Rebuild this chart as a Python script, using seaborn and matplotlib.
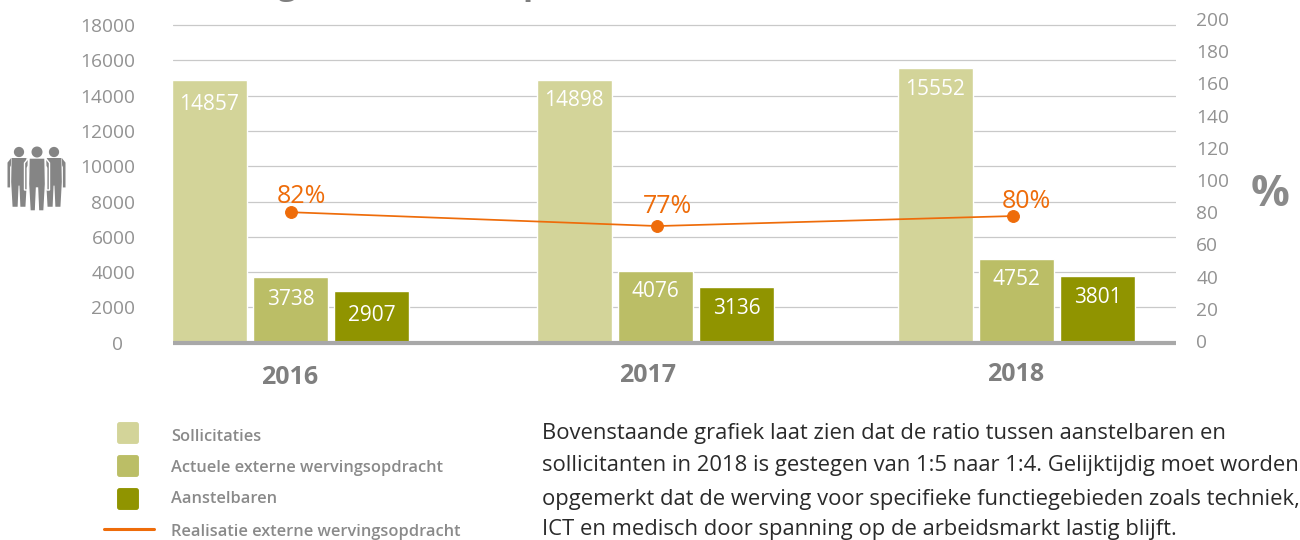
import matplotlib
matplotlib.use("Agg")
import matplotlib.pyplot as plt
from matplotlib.patches import Ellipse, FancyBboxPatch, Polygon
from matplotlib.lines import Line2D
from matplotlib.transforms import ScaledTranslation
import pandas as pd
import seaborn as sns

years = ["2016", "2017", "2018"]
sollicitaties = [14857, 14898, 15552]
actuele = [3738, 4076, 4752]
aanstelbaren = [2907, 3136, 3801]
realisatie_drawn = [80, 71.4, 77.6]
realisatie_labels = ["82%", "77%", "80%"]
series_names = ["Sollicitaties", "Actuele externe wervingsopdracht", "Aanstelbaren"]
line_name = "Realisatie externe wervingsopdracht"
left_ticks = list(range(0, 18001, 2000))
right_ticks = list(range(0, 201, 20))
body_lines = [
    "Bovenstaande grafiek laat zien dat de ratio tussen aanstelbaren en",
    "sollicitanten in 2018 is gestegen van 1:5 naar 1:4. Gelijktijdig moet worden",
    "opgemerkt dat de werving voor specifieke functiegebieden zoals techniek,",
    "ICT en medisch door spanning op de arbeidsmarkt lastig blijft.",
]

W, H = 1300, 540
COL = ["#d3d499", "#bbbe66", "#909400"]
ORANGE = "#ee6c0a"
GRAY = "#8a8a8a"
TICK = "#929292"
FONT = "Open Sans"

sns.set_theme(style="white")
plt.rcParams["font.family"] = [FONT, "DejaVu Sans"]

df = pd.DataFrame({
    "jaar": years * 3,
    "serie": [n for n in series_names for _ in years],
    "aantal": sollicitaties + actuele + aanstelbaren,
})

fig = plt.figure(figsize=(W / 100, H / 100), dpi=100, facecolor="white")
PX = lambda x, y: (x / W, 1 - y / H)
left, right, top, bottom = 173, 1176, 19, 342.7
ax = fig.add_axes([left / W, 1 - bottom / H, (right - left) / W, (bottom - top) / H])

sns.barplot(data=df, x="jaar", y="aantal", hue="serie", hue_order=series_names,
            palette=COL, width=0.672, gap=0.08, saturation=1, legend=False, ax=ax)

unit = 363.0
ax.set_xlim(-(290.5 - left) / unit, (right - 290.5) / unit)
ax.set_ylim(0, 18340)
ax.set_yticks(left_ticks)
ax.set_xlabel("")
ax.set_ylabel("")
ax.set_axisbelow(True)
ax.grid(axis="y", color="#c9c9c9", lw=0.9)
ax.grid(axis="x", visible=False)
for s in ["top", "left", "right"]:
    ax.spines[s].set_visible(False)
ax.spines["bottom"].set_color("#a8a8a8")
ax.spines["bottom"].set_linewidth(3.0)
ax.spines["bottom"].set_capstyle("butt")
ax.tick_params(axis="y", length=0, pad=27, labelsize=13.8, labelcolor=TICK)
ax.tick_params(axis="x", length=0, pad=16, labelsize=18, labelcolor="#7f7f7f")

dpi_tr = fig.dpi_scale_trans
def nudge(artist, dx, dy):
    artist.set_transform(artist.get_transform() + ScaledTranslation(dx / 100, -dy / 100, dpi_tr))

for lab, (dx, dy) in zip(ax.get_xticklabels(), [(-1, 0), (-6, -2), (-1, -3)]):
    lab.set_fontweight("bold")
    nudge(lab, dx, dy)
nudge(ax.get_yticklabels()[0], -12, 0)

# bars of the middle group sit slightly right of an even spacing
GROUP_SHIFT = [0, 2 / unit, 0]
label_drop = [[24, 21, 21], [23, 21, 21], [24, 21, 22]]
for si, cont in enumerate(ax.containers):
    for gi, bar in enumerate(cont):
        bar.set_x(bar.get_x() + GROUP_SHIFT[gi])
        bx = bar.get_x() + bar.get_width() / 2
        ax.annotate(str(int(bar.get_height())), (bx, bar.get_height()),
                    xytext=(0, -label_drop[si][gi] * 0.72), textcoords="offset points",
                    ha="center", va="center", color="white", fontsize=15)

ax2 = ax.twinx()
ax2.set_position(ax.get_position())
line_df = pd.DataFrame({"x": [0, 1.011, 1.989], "y": realisatie_drawn})
sns.lineplot(data=line_df, x="x", y="y", color=ORANGE, lw=1.25, marker="o", ms=8.5,
             mec=ORANGE, mfc=ORANGE, ax=ax2, legend=False, errorbar=None)
ax2.set_ylim(-1.06, 200)
ax2.set_yticks(right_ticks)
ax2.set_xlabel("")
ax2.set_ylabel("")
ax2.grid(False)
for s in ax2.spines.values():
    s.set_visible(False)
ax2.tick_params(axis="y", length=0, pad=14.5, labelsize=13.8, labelcolor=TICK)
for tx, ty, lab, (dx, dy) in zip(line_df["x"], line_df["y"], realisatie_labels,
                                 [(11, -16), (10, -20), (14, -15)]):
    ax2.annotate(lab, (tx, ty), xytext=(dx * 0.72, -dy * 0.72), textcoords="offset points",
                 ha="center", va="center", color=ORANGE, fontsize=18)

# "%" unit
fig.text(*PX(1270, 195), "%", ha="center", va="center", fontsize=31, fontweight="bold", color="#8a8a8a")

# cropped heading: only the descenders reach into the picture
for x, ch in [(287, "g"), (533, "p")]:
    fig.text(*PX(x, -14.5), ch, ha="center", va="center", fontsize=24, fontweight="bold", color="#7f7f7f")

# people icon
TORSO = [(-8, 0), (8, 0), (8.5, 26), (7, 53), (1.5, 53), (0.5, 30), (-0.5, 30), (-1.5, 53), (-7, 53), (-8.5, 26)]
ARM = [(8.5, 0), (12.5, 5), (12.5, 32), (9.7, 32), (9.7, 10), (8.8, 8)]
def person(cx, shoulder_y, head_y, scale, z, outline):
    c = "#858585"
    def pts(shape, sgn=1):
        return [PX(cx + sgn * dx * scale, shoulder_y + dy * scale) for dx, dy in shape]
    for shape in (TORSO, ARM, [(-dx, dy) for dx, dy in ARM]):
        fig.add_artist(Polygon(pts(shape), closed=True, fc=c, ec="white" if outline else c,
                               lw=1.0 if outline else 0, zorder=z))
    fig.add_artist(Ellipse(PX(cx, head_y), 9.6 * scale / W, 9.6 * scale / H, color=c, zorder=z))
person(19, 158, 152, 0.92, 3, False)
person(54, 158, 152, 0.92, 3, False)
person(37, 158, 152, 1.0, 4, True)

# legend
for (y0, c) in zip([422, 455, 488], COL):
    fig.add_artist(FancyBboxPatch(PX(119, y0 + 20), 18 / W, 18 / H,
                                  boxstyle="round,pad=0.0015,rounding_size=0.002",
                                  mutation_aspect=W / H, fc=c, ec=c, lw=0))
fig.add_artist(Line2D([104 / W, 154 / W], [1 - 529 / H] * 2, color=ORANGE, lw=2.2))
for y, t in zip([437, 468, 499, 532], series_names + [line_name]):
    fig.text(*PX(171, y), t, ha="left", va="center", fontsize=11.8, fontweight="semibold", color=GRAY)

# body text
for y, t in zip([433, 466, 499, 530], body_lines):
    fig.text(*PX(542, y), t, ha="left", va="center", fontsize=15.8, color="#2a2a2a")

fig.savefig("out.png", dpi=100)
